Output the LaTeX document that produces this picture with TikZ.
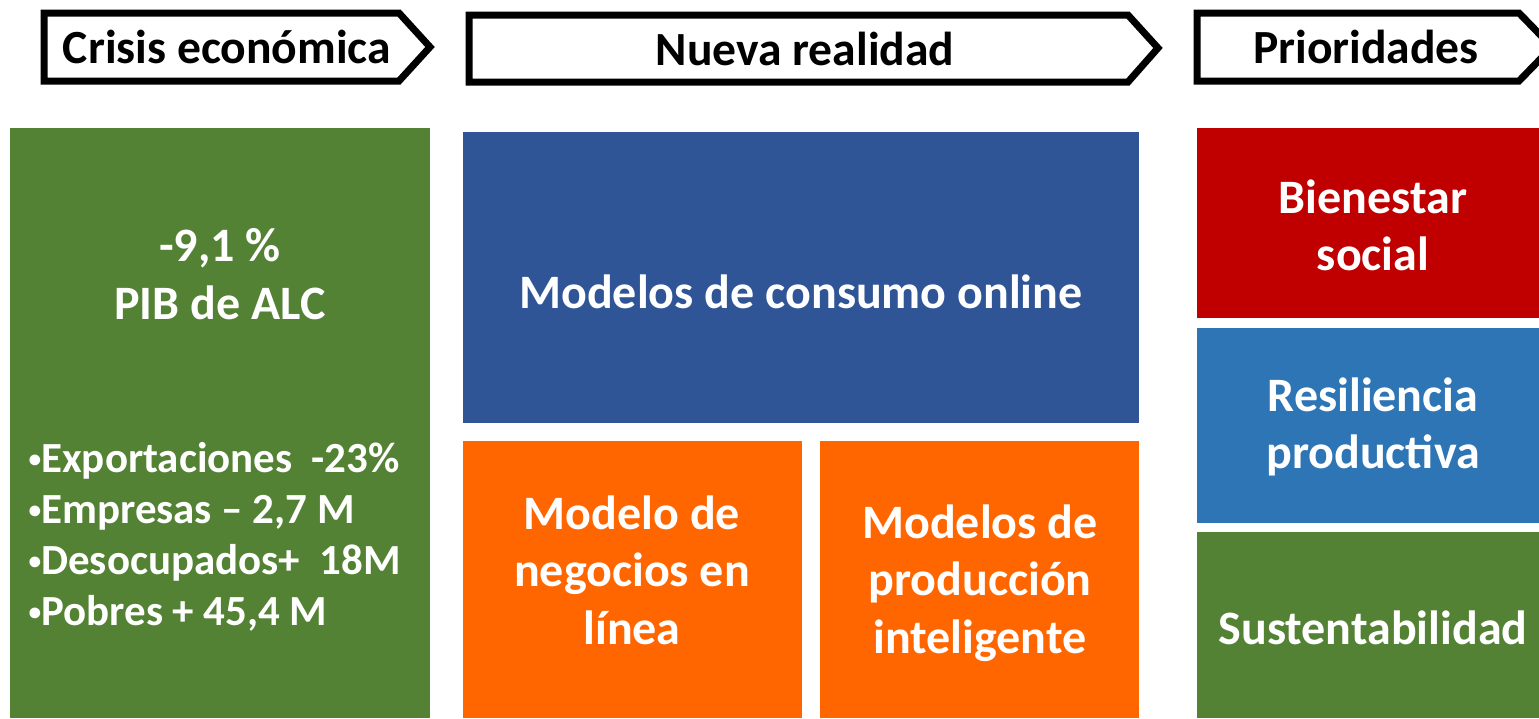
\documentclass[tikz,border=0pt]{standalone}
\usepackage{fontspec}
\setmainfont{Carlito}
\definecolor{crisisgreen}{HTML}{548235}
\definecolor{onlineblue}{HTML}{2F5597}
\definecolor{modelorange}{HTML}{FF6600}
\definecolor{socialred}{HTML}{C00000}
\definecolor{resblue}{HTML}{2E75B6}
\newcommand{\dato}{\raisebox{0.12em}{\fontsize{19}{20}\selectfont•}}
\tikzset{
  header/.style={font=\fontsize{35.7}{40}\selectfont\bfseries, text=black},
  boxtext/.style={font=\fontsize{36}{43}\selectfont\bfseries, text=white, align=center},
  listtext/.style={font=\fontsize{32.2}{38.2}\selectfont\bfseries, text=white, align=left}
}
\begin{document}
\begin{tikzpicture}[x=0.75pt,y=0.75pt,yscale=-1,xscale=1]
\useasboundingbox (0,0) rectangle (1539,718);

%%%%%%%%%%%%%%%%%%%%%%%%%%%%%%%%%%%%%%%%%%%%%%%%%%%%%%%%%%%%%%%%%%%%%%%%

\draw [line width=5.25pt, black, fill=white] (44, 13) -- (399, 13) -- (430, 47) -- (399, 81) -- (44, 81) -- cycle;
\draw (227, 47) node [header] (crisis) {Crisis económica};

\draw [line width=5.25pt, black, fill=white] (469, 15) -- (1128, 15) -- (1158, 48) -- (1128, 82) -- (469, 82) -- cycle;
\draw (805, 49) node [header] (nueva) {Nueva realidad};

\draw [line width=5.25pt, black, fill=white] (1197, 13) -- (1519, 13) -- (1552, 47) -- (1519, 81) -- (1197, 81) -- cycle;
\draw (1366, 47) node [header] (prior) {Prioridades};

%%%%%%%%%%%%%%%%%%%%%%%%%%%%%%%%%%%%%%%%%%%%%%%%%%%%%%%%%%%%%%%%%%%%%%%%

\draw [fill=crisisgreen, draw=none] (10, 128) rectangle (430, 718);
\draw (220, 274) node [boxtext] (pib) {-9,1 \%\\PIB de ALC};
\draw (24, 537) node [listtext, anchor=west] (datos) {%
  \dato Exportaciones\ \ -23\%\\
  \dato Empresas – 2,7 M\\
  \dato Desocupados+\ \ 18M\\
  \dato Pobres + 45,4 M};

%%%%%%%%%%%%%%%%%%%%%%%%%%%%%%%%%%%%%%%%%%%%%%%%%%%%%%%%%%%%%%%%%%%%%%%%

\draw [fill=onlineblue, draw=none] (463, 132) rectangle (1139, 423);
\draw (801, 292) node [boxtext] (consumo) {Modelos de consumo online};

\draw [fill=modelorange, draw=none] (463, 441) rectangle (802, 718);
\draw (632, 570) node [boxtext] (negocios) {Modelo de\\negocios en\\línea};

\draw [fill=modelorange, draw=none] (820, 441) rectangle (1139, 718);
\draw (980, 583) node [boxtext] (produccion) {Modelos de\\producción\\inteligente};

%%%%%%%%%%%%%%%%%%%%%%%%%%%%%%%%%%%%%%%%%%%%%%%%%%%%%%%%%%%%%%%%%%%%%%%%

\draw [fill=socialred, draw=none] (1197, 128) rectangle (1539, 318);
\draw (1373, 225) node [boxtext] (bienestar) {Bienestar\\social};

\draw [fill=resblue, draw=none] (1197, 328) rectangle (1539, 523);
\draw (1373, 427) node [boxtext] (resiliencia) {Resiliencia\\productiva};

\draw [fill=crisisgreen, draw=none] (1197, 532) rectangle (1539, 718);
\draw (1373, 628) node [boxtext] (sustent) {Sustentabilidad};

%%%%%%%%%%%%%%%%%%%%%%%%%%%%%%%%%%%%%%%%%%%%%%%%%%%%%%%%%%%%%%%%%%%%%%%%

\end{tikzpicture}
\end{document}
